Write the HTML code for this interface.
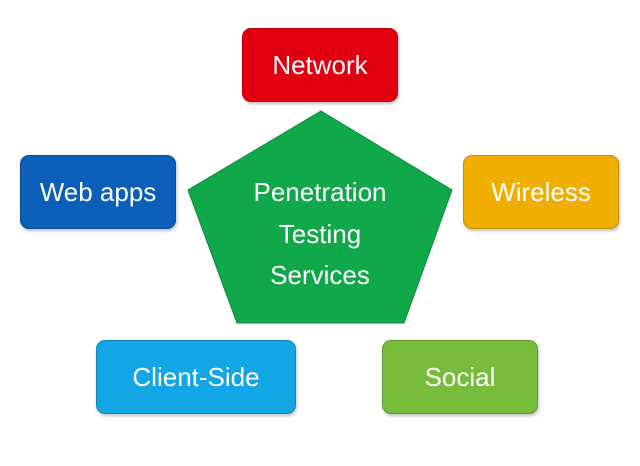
<!DOCTYPE html>
<html><head><style>
body{margin:0;width:640px;height:466px;background:#fff;overflow:hidden;position:relative;font-family:"Liberation Sans",sans-serif}
.b{position:absolute;border-radius:9px;color:#fff;font-size:26px;display:flex;align-items:center;justify-content:center;box-sizing:border-box;box-shadow:1px 2px 3px rgba(0,0,0,.25)}
</style></head><body>
<div class="b" style="left:242px;top:28px;width:156px;height:74px;background:#e20010;border:1px solid #b00">Network</div>
<div class="b" style="left:20px;top:155px;width:156px;height:74px;background:#0b5fb9;border:1px solid #094c94">Web apps</div>
<div class="b" style="left:463px;top:155px;width:156px;height:74px;background:#f0ae00;border:1px solid #c98f00">Wireless</div>
<div class="b" style="left:96px;top:340px;width:200px;height:74px;background:#12a6e6;border:1px solid #0d86bb">Client-Side</div>
<div class="b" style="left:382px;top:340px;width:156px;height:74px;background:#77bd3b;border:1px solid #5e9a2d">Social</div>
<svg style="position:absolute;left:0;top:0" width="640" height="466">
<polygon points="321,111 452,190 404,323 237,323 188,190" fill="#10a84a" stroke="#0c8a3a" stroke-width="1"/>
<g fill="#fff" font-family="Liberation Sans,sans-serif" font-size="26" text-anchor="middle">
<text x="320" y="201">Penetration</text>
<text x="320" y="243">Testing</text>
<text x="320" y="284">Services</text>
</g>
</svg>
</body></html>
